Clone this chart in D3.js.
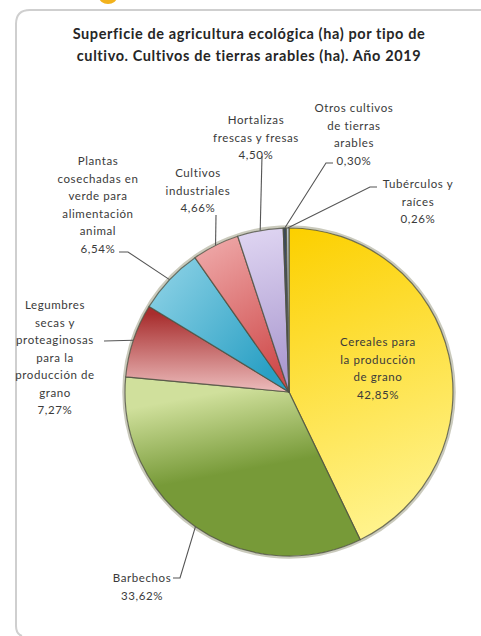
<!DOCTYPE html>
<html>
<head>
<meta charset="utf-8">
<script src="https://cdn.jsdelivr.net/npm/d3@7"></script>
<style>
  html, body { margin: 0; padding: 0; background: #fff; }
  svg { display: block; }
  .lbl { font-family: Lato, "Open Sans", sans-serif; font-size: 11.5px; letter-spacing: 0.6px; fill: #3a3a3a; }
  .ttl { font-family: Lato, "Open Sans", sans-serif; font-size: 14.5px; letter-spacing: 0.6px; font-weight: bold; fill: #262626; }
</style>
</head>
<body>
<script>
var categories = [
	['Cereales para', 'la producción', 'de grano'],
	['Barbechos'],
	['Legumbres', 'secas y', 'proteaginosas', 'para la', 'producción de', 'grano'],
	['Plantas', 'cosechadas en', 'verde para', 'alimentación', 'animal'],
	['Cultivos', 'industriales'],
	['Hortalizas', 'frescas y fresas'],
	['Otros cultivos', 'de tierras', 'arables'],
	['Tubérculos y', 'raíces']
];
var values = [42.85, 33.62, 7.27, 6.54, 4.66, 4.50, 0.30, 0.26];
var valueLabels = ['42,85%', '33,62%', '7,27%', '6,54%', '4,66%', '4,50%', '0,30%', '0,26%'];
var titleLines = [
	'Superficie de agricultura ecológica (ha) por tipo de',
	'cultivo. Cultivos de tierras arables (ha). Año 2019'
];

// colours [dark, light] per slice
var colours = [
	['#fcd000', '#fff38c'],
	['#779a38', '#d0e09c'],
	['#a82e2e', '#ecbcbc'],
	['#2aa0c4', '#93d5e8'],
	['#cf4c4c', '#efaaaa'],
	['#ab9ad0', '#ded4f1'],
	['#3c4859', '#56657a'],
	['#b9c3cd', '#dfe5ea']
];

// gradient vectors relative to the pie centre
var gradVec = [
	[[0, -160], [110, 130], 'dl'],
	[[-70, 0], [-55, 80], 'ld'],
	[[-140, -78], [-140, 0], 'dl'],
	[[-150, -120], [-20, -20], 'ld'],
	[[-90, -150], [-10, -20], 'ld'],
	[[-40, -160], [-5, -20], 'ld'],
	[[0, -160], [0, 0], 'dl'],
	[[0, -160], [0, 0], 'dl']
];

// label layout: text centre x, first baseline y, leader start points (null = no leader)
var layout = [
	{ x: 378, y: 346, lead: null },
	{ x: 142, y: 582, lead: [[173, 578], [180, 578]] },
	{ x: 55, y: 309, lead: [[104, 341]] },
	{ x: 98, y: 165, lead: [[119, 252], [128, 252]] },
	{ x: 198, y: 177, lead: [[216, 215]] },
	{ x: 256, y: 124, lead: [[262, 156]] },
	{ x: 354, y: 112, lead: [[333, 163], [326, 163]] },
	{ x: 418, y: 188, lead: [[377, 187], [370, 187]] }
];

var width = 481, height = 636,
	cx = 289, cy = 392, radius = 164, lineH = 17.5;

var svg = d3.select('body').append('svg')
	.attr('width', width)
	.attr('height', height);

var defs = svg.append('defs');

// frame
svg.append('ellipse')
	.attr('cx', 108).attr('cy', -3)
	.attr('rx', 9).attr('ry', 7)
	.attr('fill', '#f2b21c');

svg.append('path')
	.attr('d', 'M481,10 H30 Q16,10 16,24 V626 Q16,634 22,636')
	.attr('fill', 'none')
	.attr('stroke', '#cfcfcf')
	.attr('stroke-width', 2);

// title
svg.append('text')
	.attr('class', 'ttl')
	.attr('text-anchor', 'middle')
	.selectAll('tspan')
	.data(titleLines)
	.join('tspan')
		.attr('x', 249)
		.attr('y', function (d, i) { return 39 + i * 22; })
		.text(function (d) { return d; });

var pie = d3.pie().sort(null).value(function (d) { return d; });
var arcs = pie(values);

var arc = d3.arc().innerRadius(0).outerRadius(radius);

arcs.forEach(function (a, i) {
	var v = gradVec[i];
	var g = defs.append('linearGradient')
		.attr('id', 'g' + i)
		.attr('gradientUnits', 'userSpaceOnUse')
		.attr('x1', v[0][0]).attr('y1', v[0][1])
		.attr('x2', v[1][0]).attr('y2', v[1][1]);
	var first = v[2] === 'dl' ? colours[i][0] : colours[i][1],
		last = v[2] === 'dl' ? colours[i][1] : colours[i][0];
	g.append('stop').attr('offset', '0%').attr('stop-color', first);
	g.append('stop').attr('offset', '100%').attr('stop-color', last);
});

var pieG = svg.append('g')
	.attr('transform', 'translate(' + [cx, cy] + ')');

// soft outer shadow
pieG.append('circle')
	.attr('r', radius + 1.5)
	.attr('fill', 'none')
	.attr('stroke', '#8a8a6a')
	.attr('stroke-opacity', 0.45)
	.attr('stroke-width', 2.5);

pieG.selectAll('path.slice')
	.data(arcs)
	.join('path')
		.attr('class', 'slice')
		.attr('d', arc)
		.attr('fill', function (d, i) { return 'url(#g' + i + ')'; })
		.attr('stroke', '#4e5040')
		.attr('stroke-opacity', 0.8)
		.attr('stroke-width', 1.2)
		.attr('stroke-linejoin', 'round');

// leader lines
arcs.forEach(function (a, i) {
	var lay = layout[i];
	if (!lay.lead) return;
	var mid = (a.startAngle + a.endAngle) / 2;
	var end = [cx + radius * Math.sin(mid), cy - radius * Math.cos(mid)];
	svg.append('path')
		.attr('d', d3.line()(lay.lead.concat([end])))
		.attr('fill', 'none')
		.attr('stroke', '#555')
		.attr('stroke-width', 1.1);
});

// labels
arcs.forEach(function (a, i) {
	var lay = layout[i];
	var lines = categories[i].concat([valueLabels[i]]);
	svg.append('text')
		.attr('class', 'lbl')
		.attr('text-anchor', 'middle')
		.selectAll('tspan')
		.data(lines)
		.join('tspan')
			.attr('x', lay.x)
			.attr('y', function (d, k) { return lay.y + k * lineH; })
			.text(function (d) { return d; });
});
</script>
</body>
</html>
